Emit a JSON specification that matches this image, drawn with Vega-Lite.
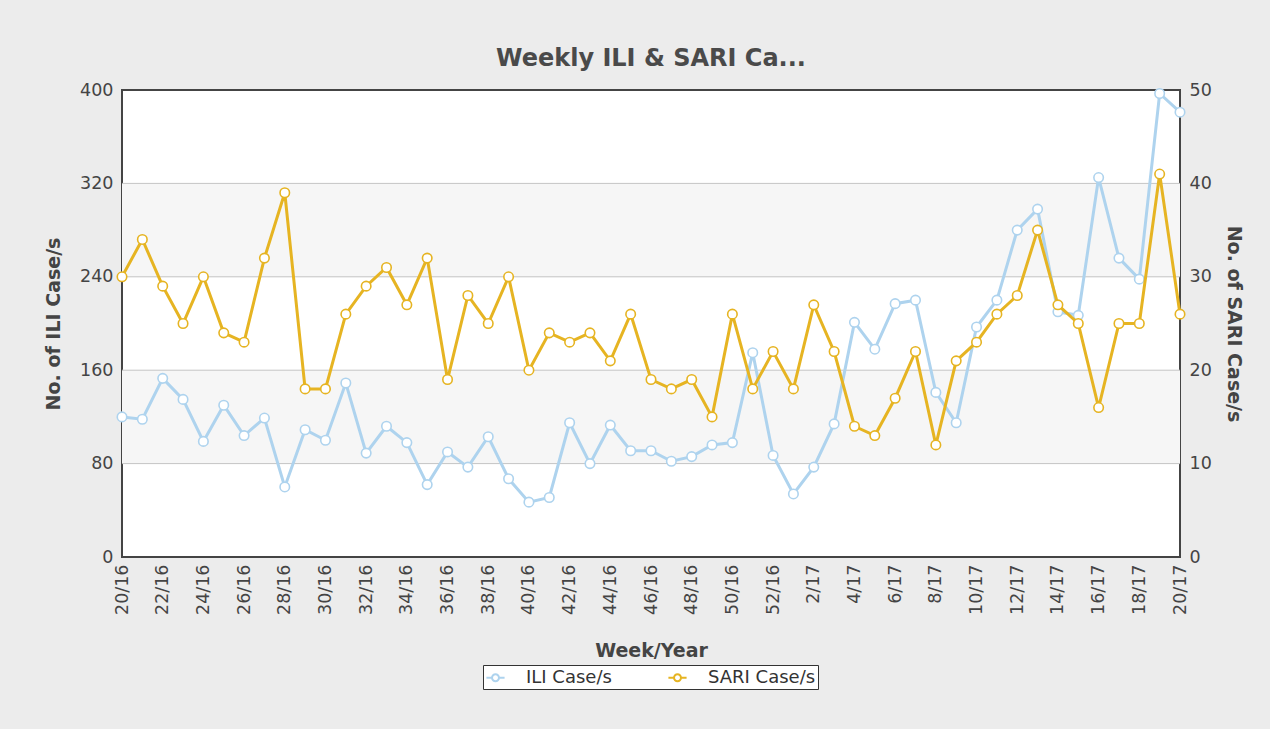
{
  "$schema": "https://vega.github.io/schema/vega-lite/v6.json",
  "width": 1058,
  "height": 467,
  "autosize": {"type": "none"},
  "padding": {"left": 122, "top": 90, "right": 90, "bottom": 172},
  "background": "#ececec",
  "title": {
    "text": "Weekly ILI & SARI Ca...",
    "font": "DejaVu Sans",
    "fontSize": 24,
    "fontWeight": "bold",
    "color": "#4a4a4a",
    "anchor": "middle",
    "offset": 10
  },
  "config": {
    "view": {"fill": "white", "stroke": "#444", "strokeWidth": 2},
    "axis": {
      "labelFont": "DejaVu Sans",
      "labelFontSize": 17.5,
      "labelColor": "#444",
      "titleFont": "DejaVu Sans",
      "titleFontSize": 19,
      "titleFontWeight": "bold",
      "titleColor": "#444",
      "domain": false,
      "ticks": false,
      "grid": false
    },
    "legend": {
      "labelFont": "DejaVu Sans",
      "labelFontSize": 18,
      "labelColor": "#333"
    }
  },
  "data": {
    "values": [
      {"week": "20/16", "ili": 120, "sari": 30},
      {"week": "21/16", "ili": 118, "sari": 34},
      {"week": "22/16", "ili": 153, "sari": 29},
      {"week": "23/16", "ili": 135, "sari": 25},
      {"week": "24/16", "ili": 99, "sari": 30},
      {"week": "25/16", "ili": 130, "sari": 24},
      {"week": "26/16", "ili": 104, "sari": 23},
      {"week": "27/16", "ili": 119, "sari": 32},
      {"week": "28/16", "ili": 60, "sari": 39},
      {"week": "29/16", "ili": 109, "sari": 18},
      {"week": "30/16", "ili": 100, "sari": 18},
      {"week": "31/16", "ili": 149, "sari": 26},
      {"week": "32/16", "ili": 89, "sari": 29},
      {"week": "33/16", "ili": 112, "sari": 31},
      {"week": "34/16", "ili": 98, "sari": 27},
      {"week": "35/16", "ili": 62, "sari": 32},
      {"week": "36/16", "ili": 90, "sari": 19},
      {"week": "37/16", "ili": 77, "sari": 28},
      {"week": "38/16", "ili": 103, "sari": 25},
      {"week": "39/16", "ili": 67, "sari": 30},
      {"week": "40/16", "ili": 47, "sari": 20},
      {"week": "41/16", "ili": 51, "sari": 24},
      {"week": "42/16", "ili": 115, "sari": 23},
      {"week": "43/16", "ili": 80, "sari": 24},
      {"week": "44/16", "ili": 113, "sari": 21},
      {"week": "45/16", "ili": 91, "sari": 26},
      {"week": "46/16", "ili": 91, "sari": 19},
      {"week": "47/16", "ili": 82, "sari": 18},
      {"week": "48/16", "ili": 86, "sari": 19},
      {"week": "49/16", "ili": 96, "sari": 15},
      {"week": "50/16", "ili": 98, "sari": 26},
      {"week": "51/16", "ili": 175, "sari": 18},
      {"week": "52/16", "ili": 87, "sari": 22},
      {"week": "1/17", "ili": 54, "sari": 18},
      {"week": "2/17", "ili": 77, "sari": 27},
      {"week": "3/17", "ili": 114, "sari": 22},
      {"week": "4/17", "ili": 201, "sari": 14},
      {"week": "5/17", "ili": 178, "sari": 13},
      {"week": "6/17", "ili": 217, "sari": 17},
      {"week": "7/17", "ili": 220, "sari": 22},
      {"week": "8/17", "ili": 141, "sari": 12},
      {"week": "9/17", "ili": 115, "sari": 21},
      {"week": "10/17", "ili": 197, "sari": 23},
      {"week": "11/17", "ili": 220, "sari": 26},
      {"week": "12/17", "ili": 280, "sari": 28},
      {"week": "13/17", "ili": 298, "sari": 35},
      {"week": "14/17", "ili": 210, "sari": 27},
      {"week": "15/17", "ili": 207, "sari": 25},
      {"week": "16/17", "ili": 325, "sari": 16},
      {"week": "17/17", "ili": 256, "sari": 25},
      {"week": "18/17", "ili": 238, "sari": 25},
      {"week": "19/17", "ili": 397, "sari": 41},
      {"week": "20/17", "ili": 381, "sari": 26}
    ]
  },
  "layer": [
    {
      "layer": [
        {
          "data": {"values": [{"lo": 80, "hi": 160}, {"lo": 240, "hi": 320}]},
          "mark": {"type": "rect", "color": "#f6f6f6"},
          "encoding": {
            "y": {"field": "lo", "type": "quantitative", "title": "No. of ILI Case/s"},
            "y2": {"field": "hi"}
          }
        },
        {
          "data": {"values": [{"g": 80}, {"g": 160}, {"g": 240}, {"g": 320}]},
          "mark": {"type": "rule", "color": "#c4c4c4", "strokeWidth": 1},
          "encoding": {
            "y": {"field": "g", "type": "quantitative", "title": "No. of ILI Case/s"}
          }
        },
        {
          "mark": {
            "type": "line",
            "strokeWidth": 3,
            "point": {"filled": false, "fill": "white", "size": 90, "strokeWidth": 1.6}
          },
          "encoding": {
            "x": {
              "field": "week",
              "type": "nominal",
              "sort": null,
              "scale": {"type": "point", "padding": 0},
              "title": "Week/Year",
              "axis": {
                "labelAngle": -90,
                "labelPadding": 7,
                "titlePadding": 27,
                "values": ["20/16","22/16","24/16","26/16","28/16","30/16","32/16","34/16","36/16","38/16","40/16","42/16","44/16","46/16","48/16","50/16","52/16","2/17","4/17","6/17","8/17","10/17","12/17","14/17","16/17","18/17","20/17"]
              }
            },
            "y": {
              "field": "ili",
              "type": "quantitative",
              "title": "No. of ILI Case/s",
              "scale": {"domain": [0, 400], "nice": false},
              "axis": {"values": [0, 80, 160, 240, 320, 400], "labelPadding": 9, "titlePadding": 16}
            },
            "color": {
              "datum": "ILI Case/s",
              "scale": {"domain": ["ILI Case/s", "SARI Case/s"], "range": ["#aed3ee", "#e6b422"]},
              "legend": {
                "title": null,
                "orient": "none",
                "legendX": 361,
                "legendY": 575,
                "direction": "horizontal",
                "strokeColor": "#333",
                "fillColor": "white",
                "padding": 2,
                "columnPadding": 52,
                "symbolType": "M-1,0H-0.38M0.38,0H1M0.38,0A0.38,0.38,0,1,1,-0.38,0A0.38,0.38,0,1,1,0.38,0",
                "symbolSize": 330,
                "symbolStrokeWidth": 2,
                "symbolFillColor": "white",
                "labelOffset": 20
              }
            }
          }
        }
      ]
    },
    {
      "mark": {
        "type": "line",
        "strokeWidth": 3,
        "point": {"filled": false, "fill": "white", "size": 90, "strokeWidth": 1.6}
      },
      "encoding": {
        "x": {"field": "week", "type": "nominal", "sort": null},
        "y": {
          "field": "sari",
          "type": "quantitative",
          "title": "No. of SARI Case/s",
          "scale": {"domain": [0, 50], "nice": false},
          "axis": {"values": [0, 10, 20, 30, 40, 50], "labelPadding": 9, "titlePadding": 12}
        },
        "color": {"datum": "SARI Case/s"}
      }
    }
  ],
  "resolve": {"scale": {"y": "independent"}}
}
